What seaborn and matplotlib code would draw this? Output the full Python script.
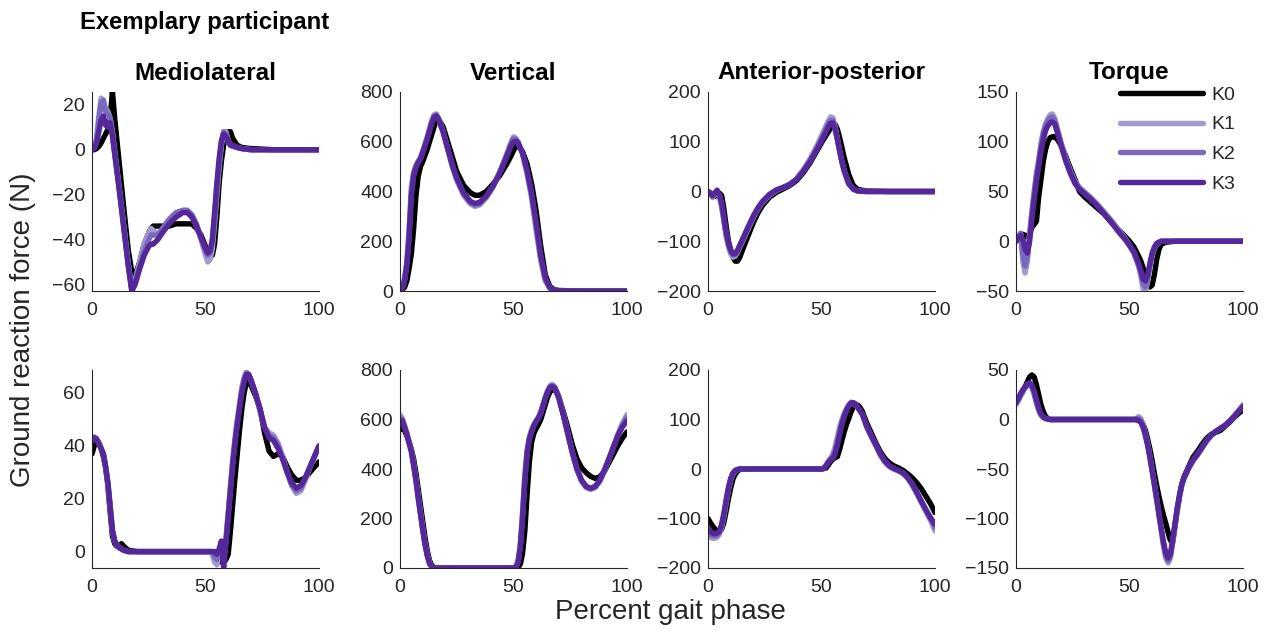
import numpy as np
import pandas as pd
import matplotlib
matplotlib.use("Agg")
import matplotlib.pyplot as plt
import seaborn as sns
from matplotlib.lines import Line2D

# ---------------- data ----------------
series_names = ["K0", "K1", "K2", "K3"]
series_colors = ["#000000", "#a39bcc", "#7a69bd", "#54289b"]
col_titles = ["Mediolateral", "Vertical", "Anterior-posterior", "Torque"]
x_ticks = [0, 50, 100]

# Row 1 - Mediolateral
ml1_x = [0,1,2,3,4,5,6,7,8,9,10,11,12,14,16,17.5,19,21,23,25,26,27,29,31,34,37,40,42,44,46,48,50,
         51,52,53,54,55,56,57,58,59,60,61,62,64,66,70,80,90,100]
ml1_k0 = [0,0,0.5,1.5,3,5,7,9,14,26,14,4,-6,-26,-45,-54,-56,-50,-42,-37,-35,-34,-34,-34,-34,-33,-33,-33,-33,-35,-38,-43,
          -46,-47,-47,-42,-30,-15,-5,2,6,8,8,5,2,1,0.5,0,0,0]
ml1_k1 = [0,1,5,15,23,22,18,17,14,8,-1,-9,-17,-34,-51,-62,-58,-50,-42,-37,-35,-36,-38,-36,-32,-29,-27,-27,-29,-34,-40,-47,
          -50,-49,-44,-33,-20,-8,2,8,8,4,2,1.5,1,0.5,0,0,0,0]
ml1_k2 = [0,1,4,13,21,22,17,16,14,7,-1,-9,-17,-34,-51,-62,-59,-52,-45,-40,-38,-38,-38,-35,-31,-28,-27,-27,-29,-33,-39,-45,
          -47,-46,-41,-30,-17,-6,3,8,7,4,2,1.5,1,0.5,0,0,0,0]
ml1_k3 = [0,0.5,3,8,13,15,11,10,12,6,-2,-10,-18,-35,-52,-63,-60,-53,-47,-43,-42,-42,-40,-37,-33,-30,-28,-28,-30,-34,-39,-44,
          -46,-45,-40,-28,-15,-4,4,7,6,4,2,2,1,0.5,0,0,0,0]

# Row 1 - Vertical
v1_x = [0,1,2,3,4,5,6,7,8,9,10,12,14,15,16,17,19,21,23,25,28,31,33,35,38,41,44,47,49,50,51,52,
        54,56,58,60,62,64,66,68,70,80,90,100]
v1_k0 = [0,5,15,40,90,150,250,380,460,500,520,570,630,660,685,690,660,600,540,480,425,395,385,385,400,430,465,510,545,565,580,585,
         560,510,430,320,180,65,18,5,2,0,0,0]
v1_k1 = [0,15,50,120,250,420,480,505,520,535,560,620,685,708,712,695,640,570,500,445,385,350,340,345,375,420,480,550,600,620,615,600,
         550,470,370,240,120,40,10,3,1,0,0,0]
v1_k2 = [0,12,45,110,230,400,470,500,520,535,560,615,680,703,708,693,640,572,505,450,390,355,345,350,378,420,478,545,595,612,610,598,
         552,478,385,260,135,48,12,3,1,0,0,0]
v1_k3 = [0,10,40,100,210,380,460,495,515,530,555,610,675,698,703,690,640,575,510,455,395,360,352,356,382,422,475,540,585,600,602,595,
         555,485,395,275,145,55,14,4,1,0,0,0]

# Row 1 - Anterior-posterior
ap1_x = [0,1,2,3,4,5,6,7,8,9,10,11,12,13,14,16,18,20,22,24,27,30,33,36,39,42,45,48,50,52,
         53,54,55,56,57,58,59,60,62,64,66,70,80,90,100]
ap1_k0 = [0,-3,-8,-10,-5,-3,-8,-35,-70,-100,-120,-132,-140,-140,-132,-108,-85,-62,-43,-28,-12,-2,5,12,22,38,58,82,98,113,
          120,127,133,135,125,108,88,68,34,12,4,1,0,0,0]
ap1_k1 = [0,-5,-12,-5,2,-10,-30,-60,-90,-110,-125,-132,-130,-122,-112,-92,-72,-52,-35,-22,-8,2,8,14,26,44,66,92,112,132,
          142,150,148,130,105,80,58,40,15,4,1,0,0,0,0]
ap1_k2 = [0,-4,-10,-4,3,-8,-28,-57,-87,-108,-122,-128,-127,-120,-110,-90,-70,-50,-34,-21,-7,2,8,14,25,42,63,88,107,126,
          136,143,143,128,106,82,60,42,16,5,1,0,0,0,0]
ap1_k3 = [0,-3,-8,-3,2,-6,-22,-50,-80,-102,-117,-125,-125,-118,-108,-88,-68,-49,-33,-20,-6,3,8,14,24,40,60,84,102,120,
          130,137,138,125,105,82,60,42,16,5,1,0,0,0,0]

# Row 1 - Torque
tq1_x = [0,1,2,3,4,5,6,7,8,9,10,11,12,13,14,15,16,17,18,20,22,24,26,28,30,33,36,39,42,45,48,50,52,54,
         55,56,57,58,59,60,61,62,63,64,66,70,80,90,100]
tq1_k0 = [0,2,5,7,6,4,8,14,17,20,45,62,80,92,100,104,105,105,103,96,85,73,62,50,45,39,33,27,19,12,5,0,-6,-15,
          -20,-27,-35,-42,-46,-44,-33,-18,-8,-3,-1,0,0,0,0]
tq1_k1 = [0,4,8,-20,-32,-20,8,30,50,68,82,98,110,118,123,127,128,124,115,98,83,70,60,54,50,44,37,29,21,12,3,-4,-12,-25,
          -35,-48,-50,-40,-25,-14,-7,-3,-1,0,0,0,0,0,0]
tq1_k2 = [0,4,8,-12,-25,-15,5,28,48,66,80,96,108,116,121,124,125,122,114,97,82,70,60,53,49,43,36,28,20,11,3,-4,-12,-24,
          -32,-43,-46,-38,-24,-13,-6,-3,-1,0,0,0,0,0,0]
tq1_k3 = [0,3,6,2,-8,-12,0,22,42,60,75,90,102,111,116,119,120,118,111,95,80,68,58,52,48,42,35,27,19,10,2,-4,-11,-22,
          -29,-38,-40,-34,-22,-12,-6,-2,-1,0,0,0,0,0,0]

# Row 2 - Mediolateral
ml2_x = [0,1,2,3,4,5,6,7,8,9,10,11,12,13,14,16,20,30,40,50,52,
         53,54,55,56,57,58,59,60,61,62,63,64,65,66,67,68,69,70,
         72,74,76,78,80,82,84,86,88,90,92,94,96,98,100]
ml2_k0 = [37,40,42,41,39,36,32,25,15,6,3,2,2,3,2,0.5,0,0,0,0,0,
          0,0,-0.5,-2,-4,-4,-3,-1,8,18,28,37,46,54,60,64,65,63,
          59,54,45,38,36,37,36,32,29,27,27,28,30,32,34]
ml2_k1 = [43,43.5,43,41,39,37,32,26,17,8,4,2.5,1.5,1,0.5,0,0,0,0,0,0,
          -1,-4,-5,-1,3,-3,5,15,25,35,43,50,56,62,66,68,67,65,
          60,53,47,45,44,41,36,30,25,22,23,27,32,36,40]
ml2_k2 = [42,43,42.5,41,39,37,32,26,17,8,4,2.5,1.5,1,0.5,0,0,0,0,0,0,
          0,-2,-3,0,3,-4,4,14,24,34,42,49,55,61,65,67.5,67,65,
          60,54,47,44,43,40,35,30,25,23,24,28,32,36,40]
ml2_k3 = [42,43,42.5,41,39,37,32,26,17,8,4,2.5,1.5,1,0.5,0,0,0,0,0,0,
          0,0,-1,1,4,-6,3,13,23,33,41,48,54,60,64,67,67,65,
          60,54,47,43,42,39,35,30,26,24,25,28,32,36,40]

# Row 2 - Vertical
v2_x = [0,1,2,3,4,5,6,7,8,9,10,11,12,13,14,15,16,20,30,40,50,
        51,52,53,54,55,56,57,58,59,60,61,62,63,64,65,66,67,68,69,70,
        72,74,76,78,80,82,84,86,88,90,92,94,96,98,100]
v2_k0 = [560,565,555,535,510,480,440,385,320,255,190,125,70,30,10,3,0,0,0,0,0,
         0,3,15,60,150,300,430,510,545,565,580,600,630,660,690,710,722,722,710,690,
         630,565,495,440,405,385,370,362,368,390,425,460,495,525,550]
v2_k1 = [620,605,575,545,510,475,420,360,290,225,160,100,55,20,6,2,0,0,0,0,0,
         5,30,100,230,380,480,530,560,580,595,610,630,660,690,715,735,742,735,715,690,
         620,540,460,395,350,325,318,325,350,390,440,490,540,585,620]
v2_k2 = [608,600,572,543,508,472,418,358,288,222,158,98,52,19,5,1,0,0,0,0,0,
         4,25,90,215,365,470,525,555,578,594,608,628,658,688,713,732,738,732,713,688,
         618,540,462,398,352,327,320,327,352,392,440,489,537,578,608]
v2_k3 = [595,595,570,540,505,470,415,355,285,220,155,95,50,18,5,1,0,0,0,0,0,
         3,20,80,200,350,460,520,550,575,592,605,625,655,685,710,728,733,728,710,685,
         615,540,465,400,355,330,322,330,355,395,440,488,535,570,595]

# Row 2 - Anterior-posterior
ap2_x = [0,1,2,3,4,5,6,7,8,9,10,11,12,13,14,15,16,20,30,40,50,
         51,52,53,54,55,56,57,58,59,60,61,62,63,64,65,66,67,68,
         70,72,74,76,78,80,82,84,86,88,90,92,94,96,98,100]
ap2_k0 = [-100,-108,-115,-121,-125,-127,-122,-108,-85,-60,-38,-20,-10,-4,-1,0,0,0,0,0,0,
          1,2,8,15,20,23,25,40,58,75,90,102,115,125,130,129,124,116,
          92,72,52,34,21,12,6,2,-3,-10,-18,-28,-40,-55,-70,-88]
ap2_k1 = [-135,-138,-140,-140,-138,-132,-118,-95,-68,-42,-22,-10,-4,-1,0,0,0,0,0,0,0,
          2,8,16,22,30,45,65,85,100,112,122,130,135,134,130,124,117,110,
          84,65,47,28,14,5,0,-4,-9,-19,-33,-50,-68,-86,-104,-125]
ap2_k2 = [-128,-132,-135,-135,-134,-128,-115,-92,-65,-40,-20,-9,-3,-1,0,0,0,0,0,0,0,
          1,7,14,20,26,38,56,78,95,109,120,128,134,134,130,124,117,110,
          84,65,47,28,14,5,0,-4,-9,-18,-32,-48,-66,-84,-100,-118]
ap2_k3 = [-118,-125,-130,-131,-130,-126,-112,-90,-62,-38,-19,-8,-3,-1,0,0,0,0,0,0,0,
          1,6,13,18,22,30,48,70,90,106,118,127,133,134,131,125,118,111,
          86,67,49,30,16,6,1,-3,-8,-17,-30,-47,-65,-82,-98,-112]

# Row 2 - Torque
tq2_x = [0,1,2,3,4,5,6,7,8,9,10,11,12,13,14,15,16,20,30,40,50,52,
         53,54,55,56,57,58,59,60,61,62,63,64,65,66,67,68,69,70,71,72,73,74,
         76,78,80,82,84,86,88,90,92,94,96,98,100]
tq2_k0 = [16,20,24,28,33,38,43,45,43,35,25,15,8,3,1,0,0,0,0,0,0,0,
          0,-1,-2,-5,-11,-20,-30,-42,-55,-67,-78,-88,-97,-105,-114,-122,-124,-108,-92,-78,-66,-58,
          -48,-38,-32,-25,-19,-15,-13,-11,-7,-3,2,6,10]
tq2_k1 = [15,19,24,28,32,34,35,32,25,16,9,4,2,1,0.5,0,0,0,0,0,0,0,
          1,3,1,-6,-15,-25,-38,-52,-67,-82,-98,-113,-128,-140,-145,-140,-125,-108,-92,-78,-67,-60,
          -50,-42,-36,-29,-22,-16,-12,-9,-6,-2,3,9,15]
tq2_k2 = [16,20,25,29,32,35,36,33,27,18,10,5,2,1,0.5,0,0,0,0,0,0,0,
          0.5,1,-1,-7,-15,-25,-38,-52,-66,-81,-96,-111,-126,-138,-143,-138,-123,-107,-91,-77,-66,-59,
          -49,-41,-35,-28,-21,-16,-12,-9,-6,-2,3,8,14]
tq2_k3 = [17,21,26,30,33,36,37,35,29,20,12,6,3,1,0.5,0,0,0,0,0,0,0,
          0,-1,-3,-8,-16,-26,-38,-52,-66,-80,-95,-110,-124,-135,-140,-136,-122,-106,-90,-77,-66,-59,
          -49,-41,-35,-28,-21,-16,-12,-9,-6,-2,3,8,13]

# y-axis limits and ticks per panel
ylims = [[(-62.9, 25.7), (0, 800), (-200, 200), (-50, 150)],
         [(-6.2, 68.7), (0, 800), (-200, 200), (-150, 50)]]
yticks = [[[-60, -40, -20, 0, 20], [0, 200, 400, 600, 800], [-200, -100, 0, 100, 200], [-50, 0, 50, 100, 150]],
          [[0, 20, 40, 60], [0, 200, 400, 600, 800], [-200, -100, 0, 100, 200], [-150, -100, -50, 0, 50]]]

panels = [
    [(ml1_x, [ml1_k0, ml1_k1, ml1_k2, ml1_k3]), (v1_x, [v1_k0, v1_k1, v1_k2, v1_k3]),
     (ap1_x, [ap1_k0, ap1_k1, ap1_k2, ap1_k3]), (tq1_x, [tq1_k0, tq1_k1, tq1_k2, tq1_k3])],
    [(ml2_x, [ml2_k0, ml2_k1, ml2_k2, ml2_k3]), (v2_x, [v2_k0, v2_k1, v2_k2, v2_k3]),
     (ap2_x, [ap2_k0, ap2_k1, ap2_k2, ap2_k3]), (tq2_x, [tq2_k0, tq2_k1, tq2_k2, tq2_k3])],
]

# ---------------- styling ----------------
sns.set_theme(style="white")
plt.rcParams["font.family"] = ["Liberation Sans", "DejaVu Sans"]
TXT = "#262626"
palette = dict(zip(series_names, series_colors))

W, H = 1266, 632
fig = plt.figure(figsize=(W / 100, H / 100), dpi=100)

lefts = [92, 400, 708, 1016]
ax_w = 227
rows = [(92, 291), (370, 568)]

axes = []
for r, (top, bot) in enumerate(rows):
    for c in range(4):
        ax = fig.add_axes([lefts[c] / W, 1 - bot / H, ax_w / W, (bot - top) / H])
        xs, ys_list = panels[r][c]
        frames = []
        for name, ys in zip(series_names, ys_list):
            assert len(xs) == len(ys), (r, c, name, len(xs), len(ys))
            frames.append(pd.DataFrame({"x": xs, "y": ys, "series": name}))
        df = pd.concat(frames, ignore_index=True)
        sns.lineplot(data=df, x="x", y="y", hue="series", hue_order=series_names,
                     palette=palette, estimator=None, sort=False, linewidth=3.9,
                     legend=False, ax=ax)
        ax.set_xlim(0, 100)
        ax.set_ylim(*ylims[r][c])
        ax.set_xticks(x_ticks)
        ax.set_yticks(yticks[r][c])
        ax.set_xlabel("")
        ax.set_ylabel("")
        for s in ["top", "right"]:
            ax.spines[s].set_visible(False)
        for s in ["left", "bottom"]:
            ax.spines[s].set_color(TXT)
            ax.spines[s].set_linewidth(0.8)
        ax.tick_params(direction="in", length=3.5, width=0.8, colors=TXT,
                       labelsize=14, pad=8)
        ax.tick_params(axis="y", pad=5)
        if r == 0:
            ax.set_title(col_titles[c], fontsize=17.5, fontweight="bold", pad=9, color="black")
        axes.append(ax)

# legend in the top-right panel
handles = [Line2D([0], [0], color=col, lw=3.9) for col in series_colors]
axes[3].legend(handles, series_names, loc="upper right", bbox_to_anchor=(0.965, 1.03),
               frameon=False, fontsize=14, handlelength=4.3, handletextpad=0.4,
               labelspacing=0.62, borderpad=0, borderaxespad=0, labelcolor=TXT)

fig.text(80 / W, 1 - 22 / H, "Exemplary participant", fontsize=17.2, fontweight="bold",
         ha="left", va="center", color="black")
fig.text(23 / W, 1 - 330 / H, "Ground reaction force (N)", fontsize=20, rotation=90,
         ha="center", va="center", color=TXT)
fig.text(670 / W, 1 - 612 / H, "Percent gait phase", fontsize=20, ha="center",
         va="center", color=TXT)

fig.savefig("out.png", dpi=100)
